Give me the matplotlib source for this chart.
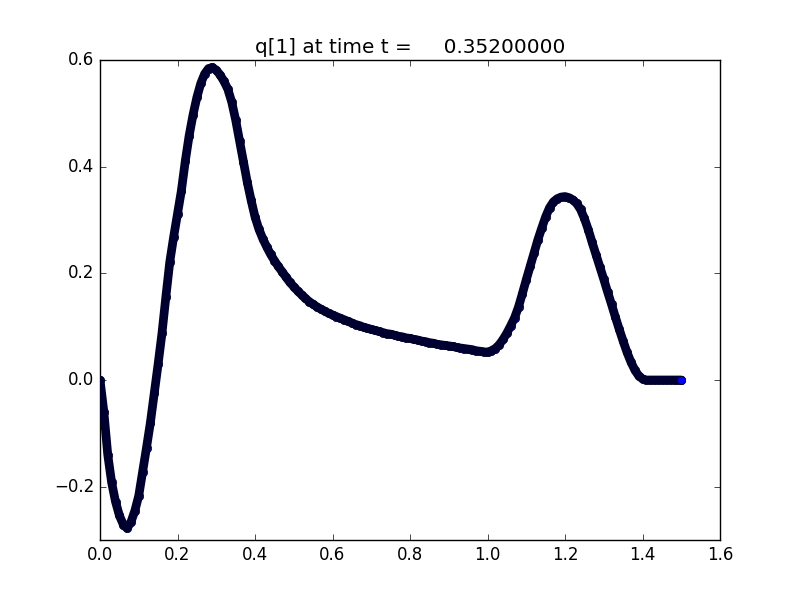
import numpy as np
import matplotlib
matplotlib.use("Agg")
import matplotlib.pyplot as plt

plt.style.use("classic")

t_value = 0.352
x = np.linspace(0.0, 1.5, 151)
q1 = [
    0.000, -0.060, -0.140, -0.192, -0.228, -0.254, -0.271, -0.278, -0.266, -0.245,
    -0.217, -0.172, -0.127, -0.080, -0.025, 0.030, 0.088, 0.156, 0.221, 0.268,
    0.312, 0.355, 0.410, 0.458, 0.497, 0.530, 0.556, 0.574, 0.584, 0.586,
    0.581, 0.572, 0.560, 0.545, 0.521, 0.488, 0.449, 0.409, 0.371, 0.337,
    0.306, 0.283, 0.265, 0.250, 0.236, 0.224, 0.213, 0.203, 0.193, 0.183,
    0.175, 0.167, 0.160, 0.153, 0.147, 0.142, 0.137, 0.133, 0.129, 0.125,
    0.122, 0.119, 0.116, 0.113, 0.110, 0.107, 0.104, 0.102, 0.099, 0.097,
    0.095, 0.093, 0.091, 0.089, 0.087, 0.086, 0.084, 0.082, 0.081, 0.079,
    0.078, 0.076, 0.075, 0.073, 0.072, 0.070, 0.069, 0.067, 0.066, 0.065,
    0.064, 0.063, 0.061, 0.060, 0.059, 0.058, 0.057, 0.055, 0.054, 0.053,
    0.052, 0.055, 0.059, 0.066, 0.076, 0.088, 0.102, 0.117, 0.137, 0.162,
    0.188, 0.213, 0.238, 0.263, 0.285, 0.306, 0.323, 0.334, 0.340, 0.343,
    0.344, 0.342, 0.338, 0.331, 0.320, 0.303, 0.282, 0.258, 0.235, 0.212,
    0.189, 0.165, 0.142, 0.118, 0.095, 0.073, 0.052, 0.034, 0.019, 0.008,
    0.002, 0.000, 0.000, 0.000, 0.000, 0.000, 0.000, 0.000, 0.000, 0.000,
    0.000,
]

fig = plt.figure(figsize=(8, 6), dpi=100, facecolor="white")
ax = fig.add_axes([0.125, 0.1, 0.775, 0.8])

# markers sit under a thick dark band, like the densely overlapping circles
ax.plot(x, q1, "o", color="b", mec="k", mew=0.5, ms=6, zorder=2)
ax.plot(x, q1, "-", color="#000030", lw=6.3, solid_capstyle="round",
        solid_joinstyle="round", zorder=3)
ax.plot(x[-1:], q1[-1:], "o", color="b", mec="k", mew=0.5, ms=6, zorder=4)

ax.set_xlim(0.0, 1.6)
ax.set_ylim(-0.3, 0.6)
ax.set_xticks(np.arange(0.0, 1.61, 0.2))
ax.set_yticks([-0.2, 0.0, 0.2, 0.4, 0.6])
ax.set_title("q[1] at time t = %14.8f" % t_value)

fig.savefig("out.png", dpi=100, facecolor="white")
